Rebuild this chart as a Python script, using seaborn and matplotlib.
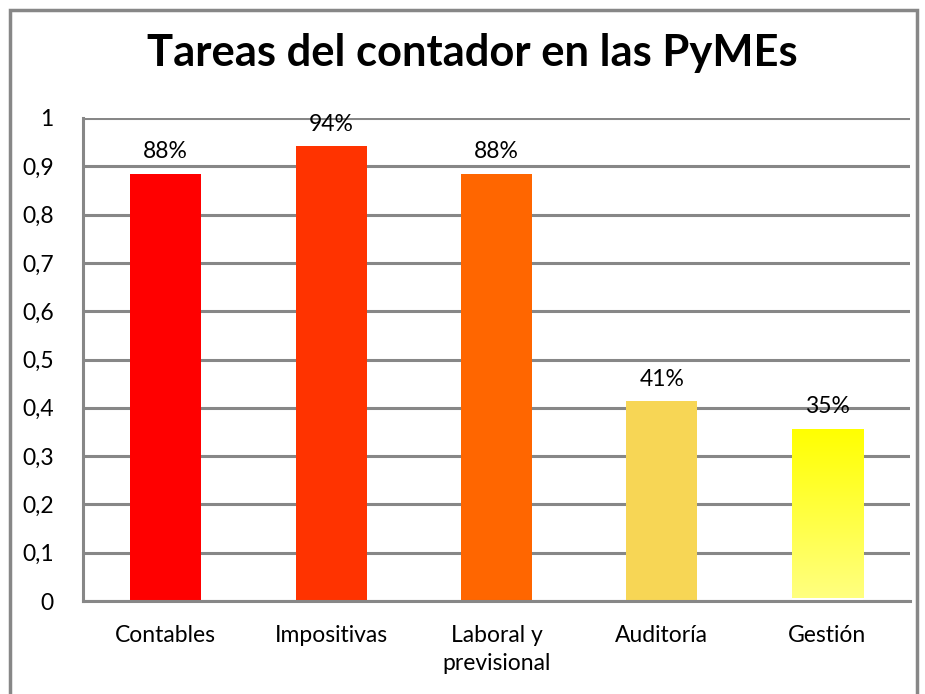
import numpy as np
import pandas as pd
import seaborn as sns
import matplotlib.pyplot as plt
from matplotlib.patches import Rectangle
from matplotlib.ticker import FuncFormatter

# data
categories = ["Contables", "Impositivas", "Laboral y\nprevisional", "Auditoría", "Gestión"]
values = [0.885, 0.942, 0.885, 0.414, 0.357]
labels = ["88%", "94%", "88%", "41%", "35%"]
colors = ["#FF0000", "#FF3300", "#FF6600", "#F7D655", "#FFFF00"]
y_ticks = [0, 0.1, 0.2, 0.3, 0.4, 0.5, 0.6, 0.7, 0.8, 0.9, 1]

sns.set_style("white")
plt.rcParams['font.family'] = ['Lato', 'DejaVu Sans']
plt.rcParams['text.color'] = "black"
grey = "#878787"

df = pd.DataFrame({"tarea": categories, "valor": values})

fig = plt.figure(figsize=(9.25, 6.94), dpi=100)
ax = fig.add_axes([83 / 925, 1 - 601 / 694, (910 - 83) / 925, (601 - 118) / 694])

sns.barplot(data=df, x="tarea", y="valor", hue="tarea", palette=colors,
            legend=False, width=0.43, saturation=1, linewidth=0, ax=ax)

# gradient fill for the last bar (leaves a thin white strip at the base)
bar = ax.patches[4]
bar.set_facecolor("white")
x0, w, h = bar.get_x(), bar.get_width(), bar.get_height()
grad = np.linspace(0, 1, 256).reshape(-1, 1)
cmap = sns.blend_palette(["#FFFF80", "#FFFF00"], as_cmap=True)
im = ax.imshow(grad, cmap=cmap, aspect="auto", origin="lower",
               extent=[x0, x0 + w, 0.006, h], zorder=bar.get_zorder() + 0.1)
im.set_clip_path(bar)

for i, (v, t) in enumerate(zip(values, labels)):
    ax.annotate(t, (i, v), xytext=(0, 11), textcoords="offset points",
                ha="center", va="baseline", fontsize=16.5, color="black")

ax.set_xlim(-0.5, 4.5)
ax.set_ylim(0, 1)
ax.set_yticks(y_ticks)
ax.yaxis.set_major_formatter(FuncFormatter(lambda v, p: ("%g" % round(v, 1)).replace(".", ",")))
ax.grid(axis="y", color=grey, linewidth=2.2)
ax.set_axisbelow(True)
ax.set_xlabel("")
ax.set_ylabel("")

# x ticks sit between the categories, labels in the middle
ax.set_xticks(np.arange(-0.5, 5, 1))
ax.set_xticklabels([])
ax.set_xticks(range(5), minor=True)
ax.set_xticklabels(categories, minor=True, fontsize=16.5)
for lab in ax.get_xticklabels(minor=True):
    lab.set_linespacing(1.45)
ax.tick_params(axis="x", which="major", direction="out", length=7, width=2.2, color=grey)
ax.tick_params(axis="x", which="minor", length=0, pad=17, labelcolor="black")
ax.tick_params(axis="y", direction="out", length=7, width=2.2, color=grey, pad=14,
               labelsize=16.5, labelcolor="black")

for s in ["top", "right"]:
    ax.spines[s].set_visible(False)
for s in ["left", "bottom"]:
    ax.spines[s].set_color(grey)
    ax.spines[s].set_linewidth(2.2)

fig.text(472 / 925, 1 - 66 / 694, "Tareas del contador en las PyMEs",
         ha="center", va="baseline", fontsize=31.3, fontweight="bold", color="black")

fig.patches.append(Rectangle((10 / 925, -0.05), (917 - 10) / 925, 1.05 - 10 / 694,
                             transform=fig.transFigure, fill=False,
                             edgecolor=grey, linewidth=2.5))

fig.savefig("out.png", dpi=100)
